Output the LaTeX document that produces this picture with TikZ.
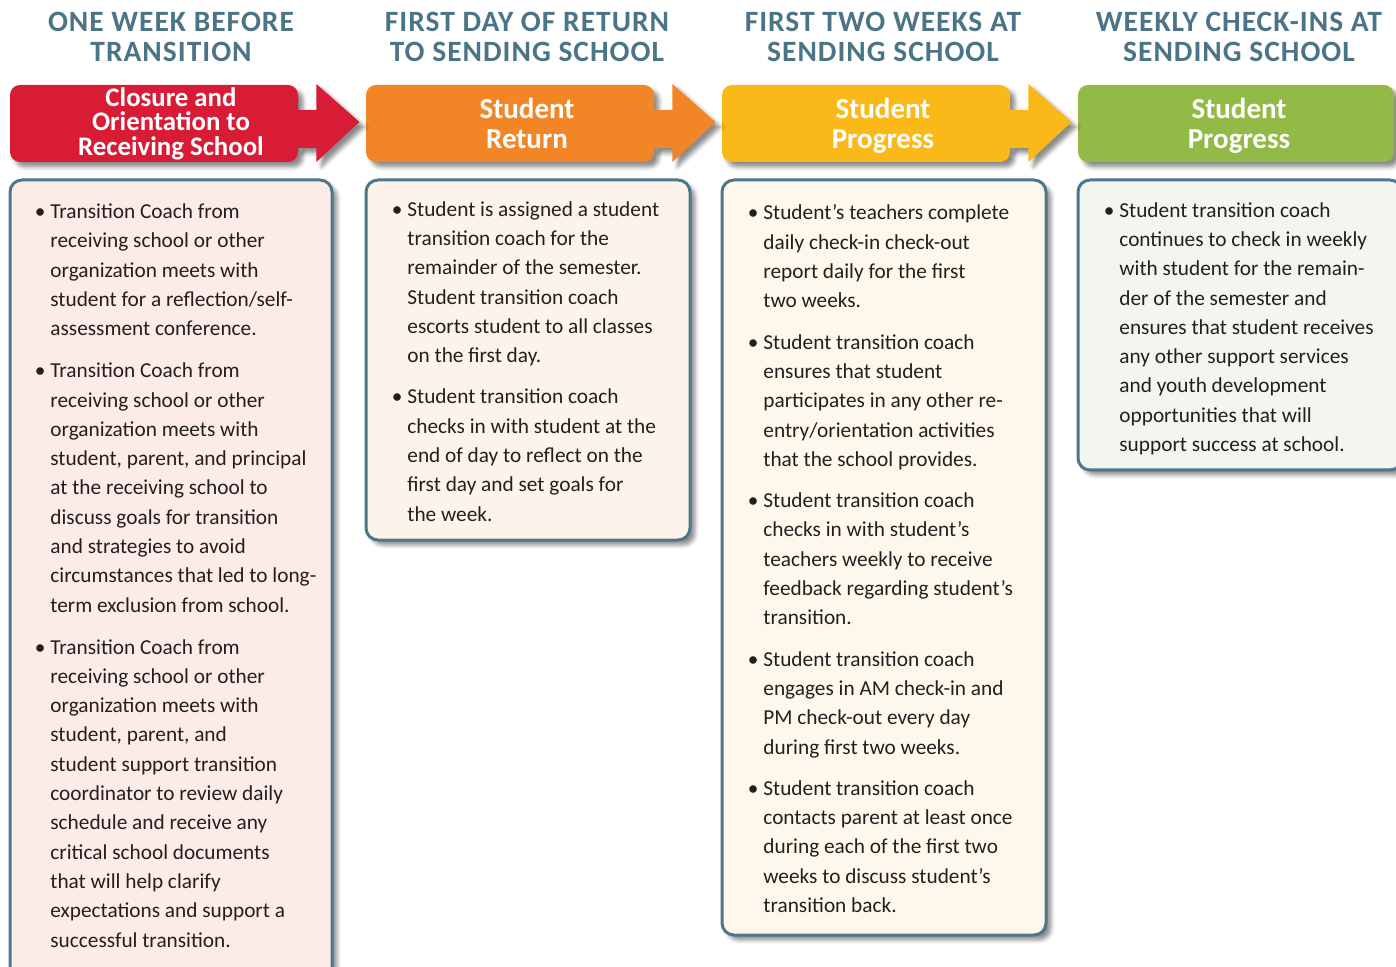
\documentclass[tikz,border=0pt]{standalone}
\usepackage{fontspec}
\setmainfont{Carlito}
\newfontfamily\labelfont[LetterSpace=3.4]{Carlito}
\usetikzlibrary{positioning,shadows.blur}

\definecolor{hdred}{HTML}{D81C36}
\definecolor{hdorange}{HTML}{F28526}
\definecolor{hdyellow}{HTML}{FBB819}
\definecolor{hdgreen}{HTML}{93BA47}
\definecolor{labelblue}{HTML}{4B7487}
\definecolor{edgeblue}{HTML}{4E778B}
\definecolor{bodyblack}{HTML}{231F20}
\definecolor{fillpink}{HTML}{FBECE8}
\definecolor{fillpeach}{HTML}{FDF3EA}
\definecolor{fillcream}{HTML}{FEF8EC}
\definecolor{fillgreen}{HTML}{F3F6EE}

\newcommand{\bpt}{\llap{\textbullet\hspace{2.5pt}}}

\begin{document}
\begin{tikzpicture}[
    x=0.5pt, y=-0.5pt,
    softshadow/.style={blur shadow={shadow xshift=2.5pt, shadow yshift=-2.5pt, shadow blur radius=2pt, shadow opacity=45}},
    toplabel/.style={align=center, inner sep=0pt, text=labelblue, font=\labelfont\fontsize{14.75}{15}\selectfont\bfseries},
    hdbox/.style={rectangle, rounded corners=5pt, minimum height=38.5pt, inner sep=0pt, softshadow},
    hdtext/.style={align=center, inner sep=0pt, text=white, font=\fontsize{14.5}{15}\selectfont\bfseries},
    bodybox/.style={rectangle, draw=edgeblue, line width=1.5pt, rounded corners=6pt, minimum width=161pt, inner sep=0pt, softshadow},
    bodytext/.style={anchor=north west, align=left, inner sep=0pt, text=bodyblack, font=\fontsize{10.65}{14.65}\selectfont}
]
\useasboundingbox (0,0) rectangle (1396,967);

% Column titles
\node[toplabel] (lab1) at (171,37) {ONE WEEK BEFORE\\TRANSITION};
\node[toplabel] (lab2) at (527,37) {FIRST DAY OF RETURN\\TO SENDING SCHOOL};
\node[toplabel] (lab3) at (883,37) {FIRST TWO WEEKS AT\\SENDING SCHOOL};
\node[toplabel] (lab4) at (1239,37) {WEEKLY CHECK-INS AT\\SENDING SCHOOL};

% Header boxes
\node[hdbox, fill=hdred, minimum width=144pt] (hd1) at (154,123.5) {};
\node[hdbox, fill=hdorange, minimum width=144pt] (hd2) at (510,123.5) {};
\node[hdbox, fill=hdyellow, minimum width=144pt] (hd3) at (866,123.5) {};
\node[hdbox, fill=hdgreen, minimum width=158pt] (hd4) at (1236,123.5) {};

% Arrows between headers
\foreach \i/\c in {1/hdred,2/hdorange,3/hdyellow}
  \fill[\c, softshadow, shift={(hd\i.east)}] (-1,-13.5) -- (18,-13.5) -- (18,-39.5)
    -- (61,-1.5) -- (18,38.5) -- (18,24.5) -- (-1,24.5) -- cycle;

% Header texts
\node[hdtext, font=\fontsize{13.4}{12.25}\selectfont\bfseries] (hdt1) at (171,123.5) {Closure and\\Orientation to\\Receiving School};
\node[hdtext] (hdt2) at (527,123) {Student\\Return};
\node[hdtext] (hdt3) at (883,126) {Student\\Progress};
\node[hdtext] (hdt4) at (1239,126) {Student\\Progress};

% Body boxes
\node[bodybox, fill=fillpink, minimum height=410pt] (body1) at (171,590) {};
\node[bodybox, fill=fillpeach, minimum width=162pt, minimum height=180pt] (body2) at (528,360) {};
\node[bodybox, fill=fillcream, minimum width=162pt, minimum height=377.5pt] (body3) at (884,557.5) {};
\node[bodybox, fill=fillgreen, minimum width=162pt, minimum height=145pt] (body4) at (1240,325) {};

% Body texts
\node[bodytext] (txt1) at (50,203.5) {%
\bpt Transition Coach from\\
receiving school or other\\
organization meets with\\
student for a reflection/self-\\
assessment conference.\\[6.3pt]
\bpt Transition Coach from\\
receiving school or other\\
organization meets with\\
student, parent, and principal\\
at the receiving school to\\
discuss goals for transition\\
and strategies to avoid\\
circumstances that led to long-\\
term exclusion from school.\\[6.3pt]
\bpt Transition Coach from\\
receiving school or other\\
organization meets with\\
student, parent, and\\
student support transition\\
coordinator to review daily\\
schedule and receive any\\
critical school documents\\
that will help clarify\\
expectations and support a\\
successful transition.};

\node[bodytext] (txt2) at (407,201) {%
\bpt Student is assigned a student\\
transition coach for the\\
remainder of the semester.\\
Student transition coach\\
escorts student to all classes\\
on the first day.\\[6pt]
\bpt Student transition coach\\
checks in with student at the\\
end of day to reflect on the\\
first day and set goals for\\
the week.};

\node[bodytext] (txt3) at (763,204.5) {%
\bpt Student’s teachers complete\\
daily check-in check-out\\
report daily for the first\\
two weeks.\\[6pt]
\bpt Student transition coach\\
ensures that student\\
participates in any other re-\\
entry/orientation activities\\
that the school provides.\\[6pt]
\bpt Student transition coach\\
checks in with student’s\\
teachers weekly to receive\\
feedback regarding student’s\\
transition.\\[6pt]
\bpt Student transition coach\\
engages in AM check-in and\\
PM check-out every day\\
during first two weeks.\\[6pt]
\bpt Student transition coach\\
contacts parent at least once\\
during each of the first two\\
weeks to discuss student’s\\
transition back.};

\node[bodytext] (txt4) at (1119,202) {%
\bpt Student transition coach\\
continues to check in weekly\\
with student for the remain-\\
der of the semester and\\
ensures that student receives\\
any other support services\\
and youth development\\
opportunities that will\\
support success at school.};
\end{tikzpicture}
\end{document}
